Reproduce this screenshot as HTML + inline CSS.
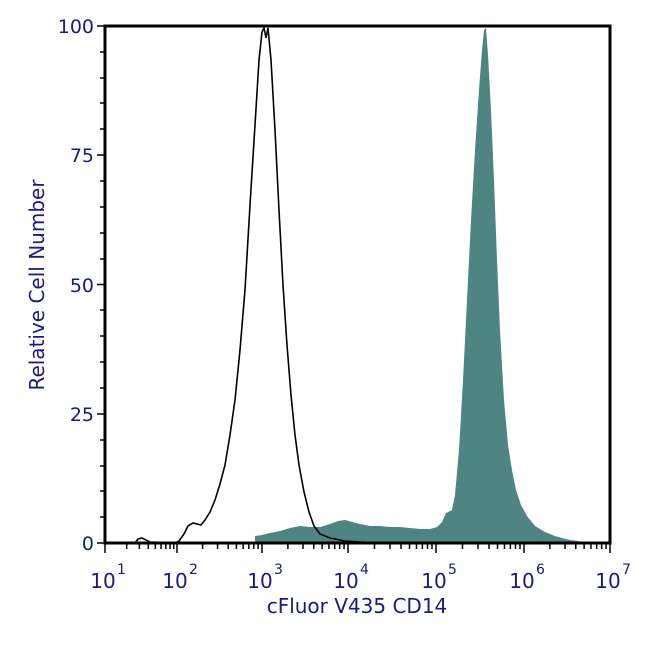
<!DOCTYPE html>
<html><head><style>body{margin:0;background:#fff}svg{display:block}</style></head><body>
<svg width="650" height="650" viewBox="0 0 650 650" xmlns="http://www.w3.org/2000/svg" font-family="'DejaVu Sans','Liberation Sans',sans-serif" fill="#1a1a80">
<path fill="#4e8583" d="M255,543 L255,536 L262,535 L270,533 L280,531 L290,528 L300,526 L310,527 L320,527 L330,524 L338,521 L345,520 L352,522 L360,524 L370,526 L380,526 L390,527 L400,527 L410,528 L420,529 L430,529 L437,527 L442,522 L446,513 L452,510 L455,495 L459,450 L463,380 L467,300 L471,220 L475,150 L479,90 L482,50 L484,30 L486,28 L488,55 L491,110 L494,180 L497,260 L500,330 L504,400 L508,445 L512,470 L516,490 L521,505 L527,516 L535,526 L545,532 L555,536 L562,538 L570,540 L578,541 L580,543 Z"/>
<path fill="none" stroke="#000" stroke-width="1.6" d="M105,543 L135,543 L138,539 L142,538 L146,540 L150,542 L175,543 L179,541 L184,534 L188,526 L193,523 L197,524 L201,525 L205,520 L210,512 L215,500 L220,484 L225,465 L230,435 L235,400 L240,350 L245,290 L250,205 L255,125 L259,60 L262,32 L264,28 L266,38 L268,28 L271,60 L275,130 L279,210 L283,285 L287,345 L291,395 L295,435 L299,465 L304,492 L309,512 L314,526 L320,534 L330,538 L345,541 L360,542 L380,543"/>
<g stroke="#000" fill="none">
<rect x="105" y="26" width="505" height="517" stroke-width="3"/>
<g stroke-width="1.5">
<line x1="97" y1="26" x2="105" y2="26"/><line x1="97" y1="155" x2="105" y2="155"/><line x1="97" y1="284.5" x2="105" y2="284.5"/><line x1="97" y1="414" x2="105" y2="414"/><line x1="97" y1="543" x2="105" y2="543"/>
<line x1="100" y1="52" x2="105" y2="52"/><line x1="100" y1="78" x2="105" y2="78"/><line x1="100" y1="103" x2="105" y2="103"/><line x1="100" y1="129" x2="105" y2="129"/>
<line x1="100" y1="181" x2="105" y2="181"/><line x1="100" y1="207" x2="105" y2="207"/><line x1="100" y1="233" x2="105" y2="233"/><line x1="100" y1="259" x2="105" y2="259"/>
<line x1="100" y1="310" x2="105" y2="310"/><line x1="100" y1="336" x2="105" y2="336"/><line x1="100" y1="362" x2="105" y2="362"/><line x1="100" y1="388" x2="105" y2="388"/>
<line x1="100" y1="440" x2="105" y2="440"/><line x1="100" y1="466" x2="105" y2="466"/><line x1="100" y1="491" x2="105" y2="491"/><line x1="100" y1="517" x2="105" y2="517"/>
</g>
</g>
<g stroke="#000" stroke-width="1.5" id="xt"></g>
<g font-size="19" text-anchor="end">
<text x="94" y="33">100</text><text x="94" y="162">75</text><text x="94" y="292">50</text><text x="94" y="421">25</text><text x="94" y="550">0</text>
</g>
<g font-size="20" text-anchor="middle">
<text x="103" y="588">10</text><text x="175" y="588">10</text><text x="260" y="588">10</text><text x="346" y="588">10</text><text x="434" y="588">10</text><text x="522" y="588">10</text><text x="608" y="588">10</text>
</g>
<g font-size="14">
<text x="117" y="574">1</text><text x="189" y="574">2</text><text x="274" y="574">3</text><text x="360" y="574">4</text><text x="448" y="574">5</text><text x="536" y="574">6</text><text x="622" y="574">7</text>
</g>
<text x="357" y="613" font-size="20" text-anchor="middle">cFluor V435 CD14</text>
<text transform="translate(44,285) rotate(-90)" font-size="20" text-anchor="middle">Relative Cell Number</text>
<script>
var pos=[105,177,262,348,436,524,610];var g=document.getElementById('xt');var ns='http://www.w3.org/2000/svg';
function ln(x,l){var e=document.createElementNS(ns,'line');e.setAttribute('x1',x);e.setAttribute('x2',x);e.setAttribute('y1',543);e.setAttribute('y2',543+l);g.appendChild(e);}
for(var i=0;i<7;i++){ln(pos[i],10);
if(i<6){for(var k=2;k<10;k++){ln(pos[i]+(pos[i+1]-pos[i])*Math.log10(k),6);}}}
</script>
</svg>
</body></html>
